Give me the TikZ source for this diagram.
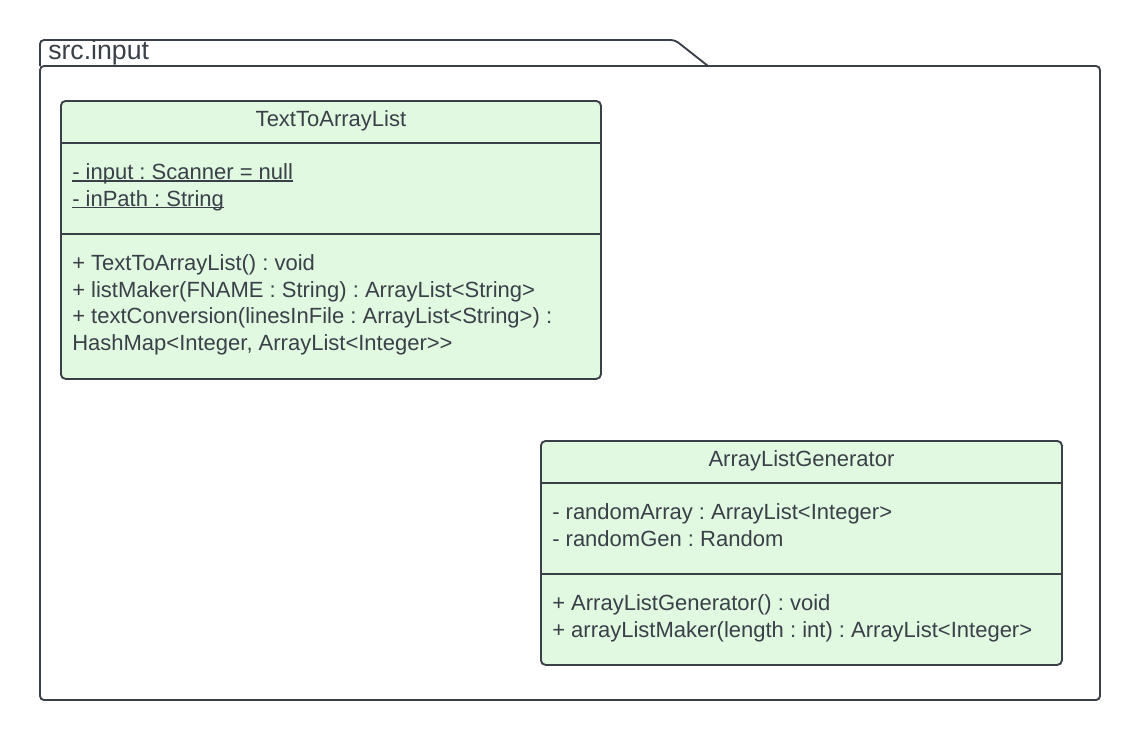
\documentclass[tikz,border=0pt]{standalone}
\usepackage{fontspec}
\setmainfont{Liberation Sans}
\usetikzlibrary{positioning}
\definecolor{umlfill}{HTML}{E1F9E1}
\definecolor{umlline}{HTML}{3A4048}
\newlength{\attrwd}
\newcommand{\ulattr}[1]{\settowidth{\attrwd}{#1}\rlap{#1}\rule[-1.6pt]{\attrwd}{1pt}}
\frenchspacing
\begin{document}
\begin{tikzpicture}[
			x=0.75pt, y=-0.75pt,
			every node/.style={font=\fontsize{16.5}{19.7}\selectfont, text=umlline},
			pkgframe/.style={draw=umlline, line width=1.4pt, rounded corners=3pt},
			classbox/.style={rectangle, draw=umlline, fill=umlfill, line width=1.4pt, rounded corners=3.5pt, anchor=north west, inner sep=0pt},
			divider/.style={draw=umlline, line width=1.4pt},
			member/.style={inner sep=0pt, text height=14.5pt, text depth=5.15pt},
			first/.style={member, anchor=base west},
			next/.style={member, below=0pt of #1.south west, anchor=north west}
		]
		\useasboundingbox (0,0) rectangle (1140,740);
		\coordinate (tabend) at (708,66);
		\draw[pkgframe] (40,66) -- (40,40) -- (675,40) -- (tabend);
		\draw[pkgframe] (40,66) rectangle (1100,700);
		\node[anchor=base west, inner sep=0pt, font=\fontsize{20}{22}\selectfont] (pkg) at (48,59) {src.input};

		\node[classbox, minimum width=405pt, minimum height=208.5pt] (ttal) at (60,100) {};
		\path (ttal.north west) ++(0,43) coordinate (ttalhead) ++(0,91) coordinate (ttalattr);
		\draw[divider] (ttalhead) -- (ttalhead -| ttal.east);
		\draw[divider] (ttalattr) -- (ttalattr -| ttal.east);
		\node[anchor=base, inner sep=0pt] (ttalname) at (ttal.north |- 0,126.5) {TextToArrayList};
		\node[first] (ttalf1) at (72,179.5) {\ulattr{- input : Scanner = null}};
		\node[next=ttalf1] (ttalf2) {\ulattr{- inPath : String}};
		\node[first] (ttalm1) at (72,270.5) {+ TextToArrayList() : void};
		\node[next=ttalm1] (ttalm2) {+ listMaker(FNAME : String) : ArrayList<String>};
		\node[next=ttalm2] (ttalm3) {+ textConversion(linesInFile : ArrayList<String>) :};
		\node[next=ttalm3] (ttalm4) {HashMap<Integer, ArrayList<Integer>{}>};

		\node[classbox, minimum width=390.75pt, minimum height=168pt] (alg) at (540,440) {};
		\path (alg.north west) ++(0,43) coordinate (alghead) ++(0,91) coordinate (algattr);
		\draw[divider] (alghead) -- (alghead -| alg.east);
		\draw[divider] (algattr) -- (algattr -| alg.east);
		\node[anchor=base, inner sep=0pt] (algname) at (alg.north |- 0,466.5) {ArrayListGenerator};
		\node[first] (algf1) at (552,519.5) {- randomArray : ArrayList<Integer>};
		\node[next=algf1] (algf2) {- randomGen : Random};
		\node[first] (algm1) at (552,610.5) {+ ArrayListGenerator() : void};
		\node[next=algm1] (algm2) {+ arrayListMaker(length : int) : ArrayList<Integer>};
	\end{tikzpicture}
\end{document}
